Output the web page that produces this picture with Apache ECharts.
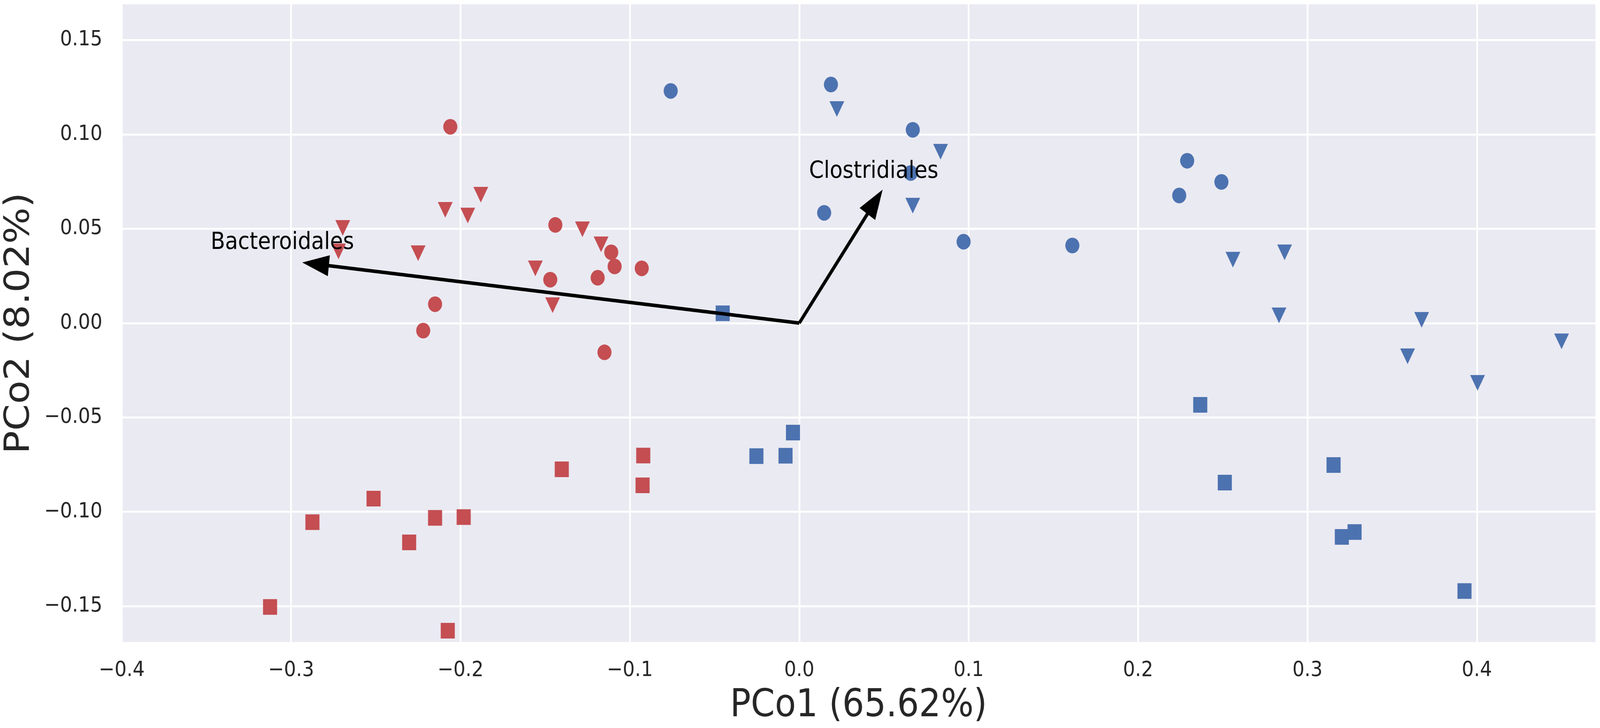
<!DOCTYPE html>
<html>
<head>
<meta charset="utf-8">
<script src="https://cdn.jsdelivr.net/npm/echarts@6.0.0/dist/echarts.min.js"></script>
<style>
html,body{margin:0;padding:0;background:#fff;overflow:hidden;}
#chart{width:4550px;height:1863px;transform-origin:0 0;}
</style>
</head>
<body>
<div id="chart"></div>
<script>
// ---- data ----
const xTicks = [-0.4, -0.3, -0.2, -0.1, 0.0, 0.1, 0.2, 0.3, 0.4];
const yTicks = [-0.15, -0.10, -0.05, 0.00, 0.05, 0.10, 0.15];

const redCircles = [
  [-0.206, 0.104], [-0.144, 0.052], [-0.111, 0.0375], [-0.109, 0.030], [-0.093, 0.029],
  [-0.147, 0.023], [-0.119, 0.024], [-0.215, 0.010], [-0.222, -0.004], [-0.115, -0.0155]
];
const redTriangles = [
  [-0.2695, 0.0504], [-0.272, 0.038], [-0.225, 0.037], [-0.209, 0.060], [-0.1957, 0.057],
  [-0.188, 0.068], [-0.128, 0.0497], [-0.117, 0.0417], [-0.1558, 0.029], [-0.1456, 0.0095]
];
const redSquares = [
  [-0.3124, -0.1504], [-0.2874, -0.1055], [-0.2513, -0.093], [-0.2303, -0.1162], [-0.215, -0.1032],
  [-0.1981, -0.1028], [-0.2075, -0.163], [-0.1402, -0.0775], [-0.0921, -0.0702], [-0.0925, -0.086]
];
const blueCircles = [
  [-0.0759, 0.123], [0.0187, 0.1264], [0.067, 0.1024], [0.0658, 0.0795], [0.0147, 0.0584],
  [0.097, 0.0431], [0.229, 0.086], [0.2492, 0.0748], [0.2243, 0.0676], [0.1612, 0.0411]
];
const blueTriangles = [
  [0.0222, 0.1134], [0.0834, 0.0908], [0.067, 0.0622], [0.256, 0.0336], [0.2865, 0.0375],
  [0.2832, 0.0041], [0.3674, 0.0017], [0.3591, -0.0176], [0.45, -0.0097], [0.4004, -0.0317]
];
const blueSquares = [
  [-0.0452, 0.0052], [-0.0253, -0.0705], [-0.0081, -0.0703], [-0.0037, -0.058], [0.2367, -0.0433],
  [0.2512, -0.0845], [0.3154, -0.0752], [0.3203, -0.1133], [0.3278, -0.1107], [0.3927, -0.142]
];

// loading arrows: name, tip (x, y), label anchor (x, y) in data units
const arrowNames = ['Bacteroidales', 'Clostridiales'];
const arrowTips = [[-0.2934, 0.0321], [0.0492, 0.0707]];
const arrowLabelAt = [[-0.3475, 0.0394], [0.0058, 0.077]];

const xName = 'PCo1 (65.62%)';
const yName = 'PCo2 (8.02%)';

// ---- chart ----
const RED = '#C44E52', BLUE = '#4C72B0', TXT = '#262626';
const FONT = 'DejaVu Sans';

// the browser viewport may be narrower than the design size: fit the 4550x1863 design into it
const el = document.getElementById('chart');
const sx = (window.innerWidth || 4550) / 4550, sy = (window.innerHeight || 1863) / 1863;
el.style.transform = 'scale(' + sx + ',' + sy + ')';

function fmt(dec) {
  return function (v) { return Number(v).toFixed(dec).replace('-', '\u2212'); };
}

function scatter(data, color, shape) {
  const tri = shape === 'triangle';
  return {
    type: 'scatter',
    data: data,
    symbol: shape === 'square' ? 'rect' : shape,
    symbolSize: tri ? [42, 40] : 40,
    symbolRotate: tri ? 180 : 0,
    itemStyle: { color: color, opacity: 1 },
    z: 2,
    silent: true
  };
}

const arrowData = arrowTips.map((t, i) => [t[0], t[1], arrowLabelAt[i][0], arrowLabelAt[i][1], i]);

const chart = echarts.init(el, null, { renderer: 'canvas', width: 4550, height: 1863 });
chart.setOption({
  backgroundColor: '#ffffff',
  animation: false,
  grid: {
    left: 342, right: 13, top: 11, bottom: 220,
    show: true, backgroundColor: '#EAEAF2', borderWidth: 0
  },
  xAxis: {
    type: 'value', min: -0.4, max: 0.47,
    axisLine: { show: false },
    axisTick: { show: false, customValues: xTicks },
    axisLabel: { customValues: xTicks, formatter: fmt(1), fontSize: 54, color: TXT, fontFamily: FONT, margin: 46 },
    splitLine: { show: true, lineStyle: { color: '#ffffff', width: 5 } },
    name: xName, nameLocation: 'middle', nameGap: 116,
    nameTextStyle: { fontSize: 98, color: TXT, fontFamily: FONT }
  },
  yAxis: {
    type: 'value', min: -0.169, max: 0.1689,
    axisLine: { show: false },
    axisTick: { show: false, customValues: yTicks },
    axisLabel: { customValues: yTicks, formatter: fmt(2), fontSize: 54, color: TXT, fontFamily: FONT, margin: 55 },
    splitLine: { show: true, lineStyle: { color: '#ffffff', width: 5 } },
    name: yName, nameLocation: 'middle', nameGap: 240, nameRotate: 90,
    nameTextStyle: { fontSize: 98, color: TXT, fontFamily: FONT }
  },
  series: [
    scatter(redCircles, RED, 'circle'),
    scatter(redTriangles, RED, 'triangle'),
    scatter(redSquares, RED, 'square'),
    scatter(blueCircles, BLUE, 'circle'),
    scatter(blueTriangles, BLUE, 'triangle'),
    scatter(blueSquares, BLUE, 'square'),
    {
      type: 'custom',
      z: 10,
      silent: true,
      data: arrowData,
      renderItem: function (params, api) {
        const o = api.coord([0, 0]);
        const t = api.coord([api.value(0), api.value(1)]);
        const l = api.coord([api.value(2), api.value(3)]);
        const dx = t[0] - o[0], dy = t[1] - o[1];
        const len = Math.sqrt(dx * dx + dy * dy);
        const ux = dx / len, uy = dy / len;
        const px = -uy, py = ux;
        const headLen = 76, headW = 54;
        const bx = t[0] - ux * headLen, by = t[1] - uy * headLen;
        return {
          type: 'group',
          children: [
            {
              type: 'line',
              shape: { x1: o[0], y1: o[1], x2: bx + ux * 4, y2: by + uy * 4 },
              style: { stroke: '#000', lineWidth: 9, lineCap: 'butt', lineJoin: 'miter' }
            },
            {
              type: 'polygon',
              shape: { points: [[t[0], t[1]], [bx + px * headW / 2, by + py * headW / 2], [bx - px * headW / 2, by - py * headW / 2]] },
              style: { fill: '#000' }
            },
            {
              type: 'text',
              style: {
                x: l[0], y: l[1] + 15, text: arrowNames[api.value(4)],
                font: '60px "DejaVu Sans"', fill: '#000',
                align: 'left', verticalAlign: 'bottom'
              }
            }
          ]
        };
      }
    }
  ]
});
</script>
</body>
</html>
